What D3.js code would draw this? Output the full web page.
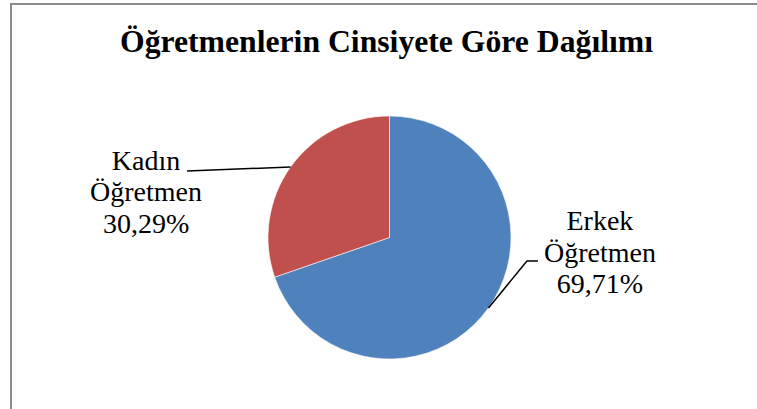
<!DOCTYPE html>
<html>
<head>
<meta charset="utf-8">
<script src="https://cdn.jsdelivr.net/npm/d3@7"></script>
<style>
  body { margin: 0; background: #fff; }
</style>
</head>
<body>
<div id="app"></div>
<script>
const TITLE = 'Öğretmenlerin Cinsiyete Göre Dağılımı';
const categories = ['Erkek Öğretmen', 'Kadın Öğretmen'];
const values = [69.71, 30.29];
const colors = ['#4F81BD', '#C0504D'];

const w = 757;
const h = 409;
const cx = 389.5, cy = 237.5, r = 121.5;
const SERIF = 'Liberation Serif';

const svg = d3.select('#app').append('svg')
  .attr('width', w)
  .attr('height', h)
  .style('display', 'block');

// chart area border (only top + left visible in the crop)
svg.append('path')
  .attr('d', `M11,${h} V4 H${w}`)
  .attr('fill', 'none')
  .attr('stroke', '#8c8c8c')
  .attr('stroke-width', 2);

const data = categories.map((c, i) => ({ name: c, value: values[i], color: colors[i] }));

const pie = d3.pie().sort(null).value(d => d.value);
const arcs = pie(data);

const arc = d3.arc().innerRadius(0).outerRadius(r);
const edge = d3.arc().innerRadius(r).outerRadius(r);

const g = svg.append('g').attr('transform', `translate(${cx},${cy})`);

g.selectAll('path.slice')
  .data(arcs)
  .join('path')
  .attr('class', 'slice')
  .attr('d', arc)
  .attr('fill', d => d.data.color)
  .attr('stroke', '#fff')
  .attr('stroke-width', 0.6);

// label layout relative to the slice's arc midpoint
const labelLayout = {
  'Erkek Öğretmen': { dx: 111.5, dy: -78, leader: p => [p, [p[0] + 38.5, p[1] - 47], [p[0] + 49.5, p[1] - 47]] },
  'Kadın Öğretmen': { dx: -144.5, dy: 3, leader: p => [p, [p[0] - 103.5, p[1] + 4]] }
};

const labelRows = [];
arcs.forEach(d => {
  const p = edge.centroid(d);
  const L = labelLayout[d.data.name];

  g.append('path')
    .attr('d', d3.line()(L.leader(p)))
    .attr('fill', 'none')
    .attr('stroke', '#000')
    .attr('stroke-width', 1.5);

  const lines = d.data.name.split(' ').concat([d3.format('.2f')(d.data.value).replace('.', ',') + '%']);
  lines.forEach((s, i) => labelRows.push({ s, x: cx + p[0] + L.dx, y: cy + p[1] + L.dy + i * 31.5 }));
});

svg.selectAll('text.lbl')
  .data(labelRows)
  .join('text')
  .attr('class', 'lbl')
  .attr('x', d => d.x)
  .attr('y', d => d.y)
  .attr('text-anchor', 'middle')
  .attr('font-size', 28)
  .style('font-family', `'${SERIF}'`)
  .text(d => d.s);

svg.append('text')
  .attr('x', 386.5)
  .attr('y', 52)
  .attr('text-anchor', 'middle')
  .attr('font-size', 31.7)
  .attr('font-weight', 'bold')
  .style('font-family', `'${SERIF}'`)
  .text(TITLE);
</script>
</body>
</html>
